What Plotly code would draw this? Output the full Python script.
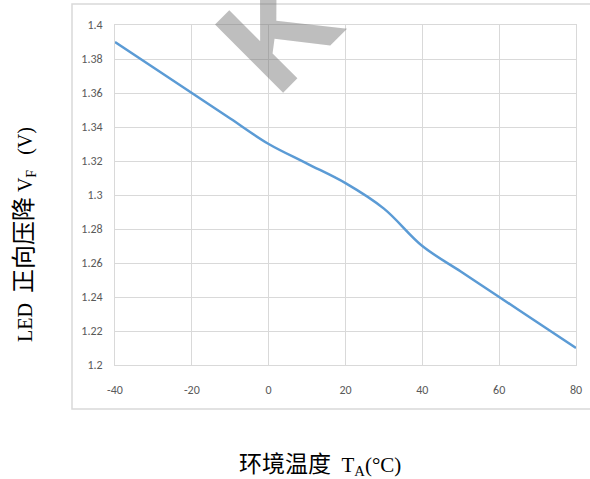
import plotly.graph_objects as go

# Data
temps = [-40, -30, -20, -10, 0, 10, 20, 30, 40, 50, 60, 70, 80]
vf = [1.39, 1.375, 1.36, 1.345, 1.33, 1.3185, 1.307, 1.292, 1.27, 1.255, 1.24, 1.225, 1.21]

x_ticks = [-40, -20, 0, 20, 40, 60, 80]
x_ticktext = ["-40", "-20", "0", "20", "40", "60", "80"]
y_ticks = [1.2, 1.22, 1.24, 1.26, 1.28, 1.3, 1.32, 1.34, 1.36, 1.38, 1.4]
y_ticktext = ["1.2", "1.22", "1.24", "1.26", "1.28", "1.3", "1.32", "1.34", "1.36", "1.38", "1.4"]

W, H = 590, 479
L, R, T, B = 115, 14, 25, 114
PW, PH = W - L - R, H - T - B


def px(x):
    return (x - L) / PW


def py(y):
    return (H - B - y) / PH


tick_font = dict(family="Carlito, Liberation Sans Narrow, Open Sans, sans-serif", size=12, color="#595959")
title_font = dict(family="Liberation Serif, Noto Sans CJK SC, serif", size=20, color="#000000")

fig = go.Figure()
fig.add_trace(go.Scatter(
    x=temps, y=vf, mode="lines",
    line=dict(color="#5B9BD5", width=2.5, shape="spline", smoothing=1),
    hoverinfo="x+y", showlegend=False,
))

fig.update_layout(
    template="none",
    width=W, height=H, autosize=False,
    margin=dict(l=L, r=R, t=T, b=B, pad=0, autoexpand=False),
    paper_bgcolor="white", plot_bgcolor="white",
    xaxis=dict(
        range=[-40, 80], tickvals=x_ticks, ticktext=x_ticktext, automargin=False,
        showgrid=True, gridcolor="#d9d9d9", gridwidth=1,
        zeroline=False, showline=True, linecolor="#d9d9d9", linewidth=1, mirror=True,
        ticks="", ticklabelstandoff=14, tickfont=tick_font,
    ),
    yaxis=dict(
        range=[1.2, 1.4], tickvals=y_ticks, ticktext=y_ticktext, automargin=False,
        showgrid=True, gridcolor="#d9d9d9", gridwidth=1,
        zeroline=False, showline=True, linecolor="#d9d9d9", linewidth=1, mirror=True,
        ticks="", ticklabelstandoff=9, tickfont=tick_font,
    ),
    shapes=[dict(
        type="rect", xref="paper", yref="paper",
        x0=px(72), x1=px(593), y0=py(409), y1=py(4),
        line=dict(color="#d9d9d9", width=1.5), fillcolor="rgba(0,0,0,0)", layer="below",
    )],
    annotations=[
        dict(text="LED&nbsp;&nbsp;<span style='font-size:24px'>正向压降</span>&nbsp;V<sub>F</sub>&nbsp;&nbsp;&nbsp;(V)",
             xref="paper", yref="paper",
             x=px(25), y=py(235), textangle=-90, showarrow=False,
             xanchor="center", yanchor="middle", font=title_font),
        dict(text="<span style='font-size:23px'>环境温度</span>&nbsp;&nbsp;T<sub>A</sub>(°C)",
             xref="paper", yref="paper",
             x=px(320), y=py(465), showarrow=False,
             xanchor="center", yanchor="middle", font=dict(title_font, size=21)),
        dict(text="K", xref="paper", yref="paper",
             x=px(278), y=py(30), textangle=-45, showarrow=False,
             xanchor="center", yanchor="middle",
             font=dict(family="Liberation Sans, Arial, sans-serif", size=140, color="rgba(110,110,110,0.45)", weight="bold")),
    ],
)

fig.write_html(
    "out.html",
    config={"displayModeBar": False},
    post_script="document.body.style.margin='0';document.body.style.padding='0';document.body.style.overflow='hidden';",
)
